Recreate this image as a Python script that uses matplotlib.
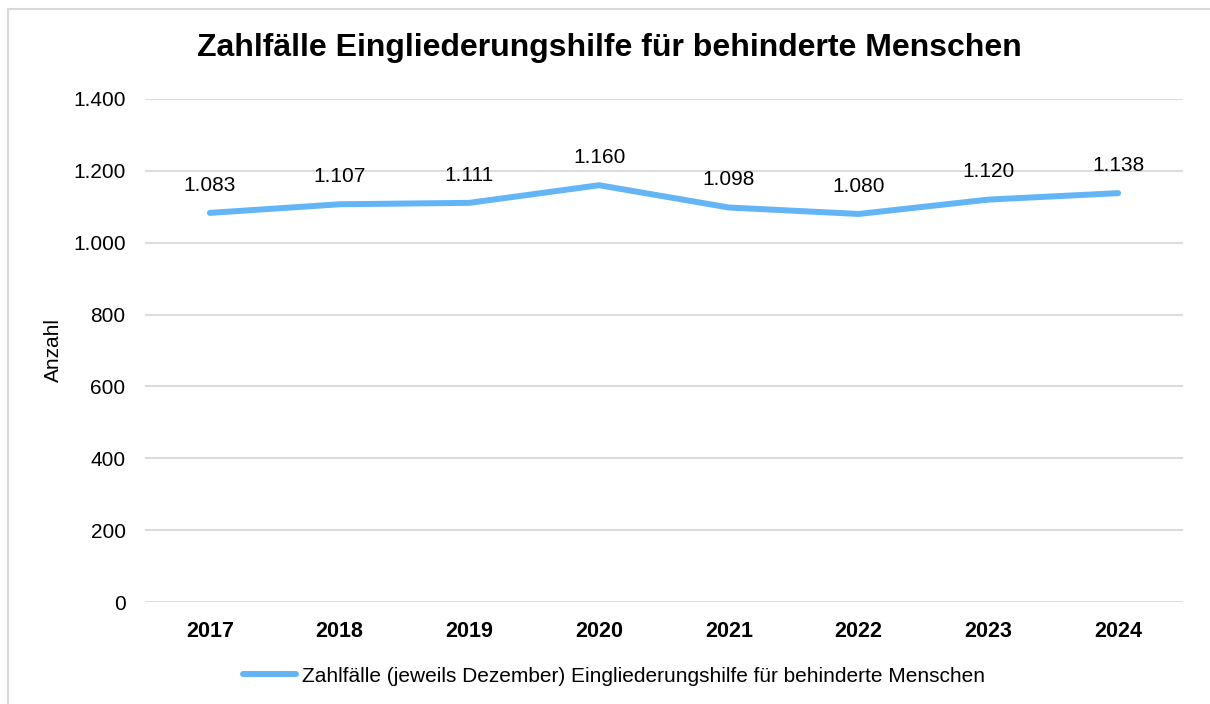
import matplotlib.pyplot as plt
from matplotlib.lines import Line2D

plt.rcParams['font.family'] = ['Liberation Sans', 'DejaVu Sans']

years = ['2017', '2018', '2019', '2020', '2021', '2022', '2023', '2024']
faelle = [1083, 1107, 1111, 1160, 1098, 1080, 1120, 1138]
yticks = [0, 200, 400, 600, 800, 1000, 1200, 1400]
ylabels = ['0', '200', '400', '600', '800', '1.000', '1.200', '1.400']

line_color = '#64b5f6'
grid_color = '#d9d9d9'


def de_format(v):
    return f'{v:,}'.replace(',', '.')


fig = plt.figure(figsize=(12.1, 7.04), dpi=100)
ax = fig.add_axes([145 / 1210, 1 - 602 / 704, 1038 / 1210, 503 / 704])

x = list(range(len(years)))
ax.plot(x, faelle, color=line_color, linewidth=4.3, solid_capstyle='round')

for xi, v in zip(x, faelle):
    ax.annotate(de_format(v), (xi, v), xytext=(0, 20), textcoords='offset points',
                ha='center', va='center', fontsize=15, color='#000000')

ax.set_xlim(-0.5, len(years) - 0.5)
ax.set_ylim(0, 1400)
ax.set_yticks(yticks)
ax.set_yticklabels(ylabels, fontsize=15)
ax.set_xticks(x)
ax.set_xticklabels(years, fontsize=15.5, fontweight='bold')
ax.tick_params(axis='both', length=0)
ax.tick_params(axis='y', pad=14)
ax.tick_params(axis='x', pad=14)
ax.grid(axis='y', color=grid_color, linewidth=1.3)
ax.set_axisbelow(True)
for s in ax.spines.values():
    s.set_visible(False)

ax.set_ylabel('Anzahl', fontsize=15, labelpad=7)

fig.text(609 / 1210, 1 - 48 / 704, 'Zahlfälle Eingliederungshilfe für behinderte Menschen',
         ha='center', va='center', fontsize=23, fontweight='bold')

handle = Line2D([], [], color=line_color, linewidth=4.3, solid_capstyle='round')
fig.legend([handle], ['Zahlfälle (jeweils Dezember) Eingliederungshilfe für behinderte Menschen'],
           loc='center', bbox_to_anchor=(614 / 1210, 1 - 676 / 704), frameon=False,
           fontsize=15, handlelength=2.55, handletextpad=0.25)

# light frame around the chart area
fig.add_artist(Line2D([8 / 1210, 8 / 1210], [0, 1 - 9 / 704], transform=fig.transFigure,
                      color='#d9d9d9', linewidth=1.5))
fig.add_artist(Line2D([8 / 1210, 1], [1 - 9 / 704, 1 - 9 / 704], transform=fig.transFigure,
                      color='#d9d9d9', linewidth=1.5))

fig.savefig('out.png', dpi=100)
